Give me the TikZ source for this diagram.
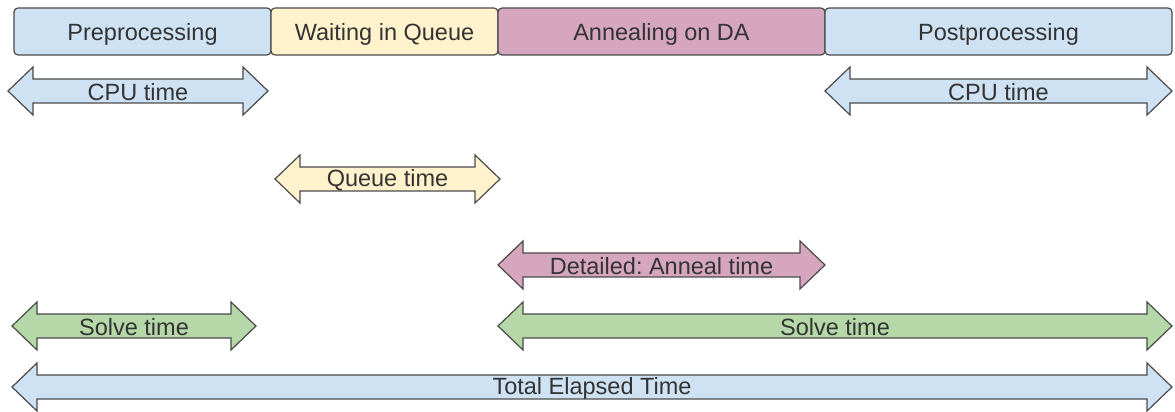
\documentclass[tikz,border=0pt]{standalone}
\usepackage{fontspec}
\setmainfont{Liberation Sans}
\frenchspacing

\definecolor{phaseblue}{HTML}{CFE2F3}
\definecolor{phaseyellow}{HTML}{FFF2CC}
\definecolor{phasepink}{HTML}{D5A6BD}
\definecolor{phasegreen}{HTML}{B6D7A8}
\definecolor{edgegray}{HTML}{4A4A4A}
\definecolor{inkgray}{HTML}{333333}

\tikzset{
  phasebox/.style={draw=edgegray, line width=1.2pt, rounded corners=4pt,
    minimum height=47pt, inner sep=0pt, outer sep=0pt, anchor=west},
  phaselabel/.style={text=inkgray, inner sep=0pt, font=\fontsize{23.5}{28}\selectfont},
  spanline/.style={draw=edgegray, line width=1.2pt, line join=miter},
  spantext/.style={text=inkgray, inner sep=0pt, font=\fontsize{23.5}{28}\selectfont}
}

% double-headed span arrow: name, left x, right x, centre y, fill, label
\newcommand\spanarrow[6]{%
  \path[spanline, fill=#5] (#2,#4) -- (#2+25,#4+24) -- (#2+25,#4+12)
    -- (#3-25,#4+12) -- (#3-25,#4+24) -- (#3,#4) -- (#3-25,#4-24)
    -- (#3-25,#4-12) -- (#2+25,#4-12) -- (#2+25,#4-24) -- cycle;
  \node[spantext] (#1) at ({(#2+#3)/2},#4-1.5) {#6};
}

\begin{document}
\begin{tikzpicture}[x=1pt,y=1pt]
\useasboundingbox (0,0) rectangle (1175,412);

% processing stages along the top
\node[phasebox, fill=phaseblue, minimum width=257pt] (pre) at (14,380.5) {};
\node[phasebox, fill=phaseyellow, minimum width=227pt] (wait) at (271,380.5) {};
\node[phasebox, fill=phasepink, minimum width=327pt] (anneal) at (498,380.5) {};
\node[phasebox, fill=phaseblue, minimum width=347pt] (post) at (825,380.5) {};
\node[phaselabel] (preT) at ([yshift=-3pt]pre.center) {Preprocessing};
\node[phaselabel] (waitT) at ([yshift=-3pt]wait.center) {Waiting in Queue};
\node[phaselabel] (annealT) at ([yshift=-3pt]anneal.center) {Annealing on DA};
\node[phaselabel] (postT) at ([yshift=-3pt]post.center) {Postprocessing};

% measured time spans
\spanarrow{cpuA}{8}{268}{321}{phaseblue}{CPU time}
\spanarrow{cpuB}{825}{1172}{321}{phaseblue}{CPU time}
\spanarrow{queue}{275}{500}{233}{phaseyellow}{Queue time}
\spanarrow{annealtime}{498}{825}{147}{phasepink}{Detailed: Anneal time}
\spanarrow{solveA}{12}{256}{86}{phasegreen}{Solve time}
\spanarrow{solveB}{498}{1172}{86}{phasegreen}{Solve time}
\spanarrow{total}{12}{1172}{25}{phaseblue}{Total Elapsed Time}
\end{tikzpicture}
\end{document}
